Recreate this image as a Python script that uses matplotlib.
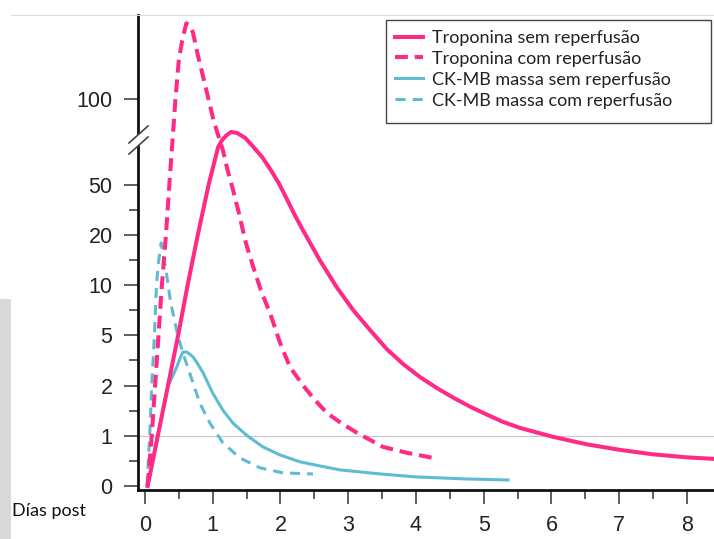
import numpy as np
import matplotlib
matplotlib.use("Agg")
import matplotlib.pyplot as plt
from matplotlib.lines import Line2D
from matplotlib.patches import Rectangle, Polygon


# days after infarction vs. marker level (multiples of the reference limit)
TROP_SEM_DAYS = [0.04, 0.19, 0.34, 0.49, 0.63, 0.78, 0.94, 1.08, 1.14, 1.20, 1.27,
                 1.36, 1.48, 1.59, 1.73, 1.85, 1.98, 2.10, 2.21, 2.33, 2.58, 2.83,
                 3.07, 3.32, 3.57, 3.81, 4.06, 4.31, 4.55, 4.80, 5.05, 5.28, 5.54,
                 6.02, 6.52, 7.01, 7.50, 8.00, 8.40]
TROP_SEM_VALS = [0.0, 1.0, 2.0, 5.0, 10.0, 20.0, 50.0, 72.0, 76.2, 78.8, 80.9,
                 80.3, 77.4, 72.6, 66.2, 59.1, 50.6, 41.0, 32.0, 23.0, 15.0, 9.8,
                 7.55, 5.55, 4.18, 3.29, 2.51, 1.95, 1.76, 1.58, 1.42, 1.28, 1.155,
                 0.98, 0.83, 0.72, 0.63, 0.57, 0.54]

TROP_COM_DAYS = [0.04, 0.10, 0.15, 0.20, 0.25, 0.31, 0.36, 0.45, 0.50, 0.55, 0.61,
                 0.66, 0.71, 0.78, 0.86, 0.93, 1.00, 1.07, 1.15, 1.22, 1.30, 1.40,
                 1.49, 1.59, 1.71, 1.85, 1.99, 2.14, 2.33, 2.51, 2.69, 2.91, 3.13,
                 3.32, 3.51, 3.87, 4.25]
TROP_COM_VALS = [0.0, 1.0, 2.0, 5.0, 10.0, 20.0, 50.0, 100.0, 146.0, 169.0, 189.0,
                 187.0, 178.0, 152.0, 126.0, 103.0, 89.7, 80.3, 70.3, 58.5, 47.0, 30.8,
                 18.4, 14.0, 9.5, 7.15, 4.6, 3.11, 2.03, 1.71, 1.45, 1.24, 1.06,
                 0.92, 0.78, 0.66, 0.56]

CK_SEM_DAYS = [0.04, 0.19, 0.34, 0.37, 0.47, 0.52, 0.56, 0.62, 0.71, 0.78, 0.86,
               0.93, 1.00, 1.15, 1.30, 1.51, 1.74, 1.99, 2.29, 2.58, 2.88, 3.47,
               4.01, 4.75, 5.36]
CK_SEM_VALS = [0.0, 1.0, 2.0, 2.21, 3.11, 3.65, 4.0, 4.0, 3.71, 3.29, 2.75,
               2.15, 1.85, 1.51, 1.25, 1.0, 0.78, 0.62, 0.48, 0.40, 0.32, 0.24,
               0.18, 0.14, 0.12]

CK_COM_DAYS = [0.03, 0.07, 0.10, 0.14, 0.17, 0.20, 0.24, 0.31, 0.38, 0.49, 0.56,
               0.66, 0.81, 0.96, 1.15, 1.40, 1.70, 2.04, 2.48]
CK_COM_VALS = [0.0, 1.0, 2.0, 5.0, 10.0, 14.6, 18.4, 13.0, 8.25, 4.91, 3.95,
               2.75, 1.65, 1.25, 0.86, 0.56, 0.36, 0.26, 0.24]

LABELS = ["Troponina sem reperfusão", "Troponina com reperfusão",
          "CK-MB massa sem reperfusão", "CK-MB massa com reperfusão"]

DAY_TICKS = [0, 1, 2, 3, 4, 5, 6, 7, 8]
DAY_MINOR = [0.5, 1.5, 2.5, 3.5, 4.5, 5.5, 6.5, 7.5]
Y_TICKS = [0, 1, 2, 5, 10, 20, 50, 100]
Y_MINOR = [0.5, 1.5, 3.5, 7.5, 15, 35]

# broken, non-linear y axis: value -> position
SCALE_VALUES = [-1, 0, 1, 2, 5, 10, 20, 50, 100, 200]
SCALE_POS = [-1, 0, 1, 2, 3, 4, 5, 6, 7.7, 9.4]

PINK = "#ff2a85"
CYAN = "#5ebcd0"

W, H = 714, 539


def fx(px):
    return px / W


def fy(py):
    return 1 - py / H


def fwd(v):
    return np.interp(v, SCALE_VALUES, SCALE_POS)


def inv(p):
    return np.interp(p, SCALE_POS, SCALE_VALUES)


plt.rcParams["font.family"] = ["Liberation Sans", "DejaVu Sans"]

fig = plt.figure(figsize=(W / 100, H / 100), dpi=100)
ax = fig.add_axes([fx(137.5), fy(490), fx(714) - fx(137.5), fy(15) - fy(490)])
ax.set_yscale("function", functions=(fwd, inv))

ax.axhline(1, color="#c9c9c9", lw=0.9, zorder=1)

h_cks, = ax.plot(CK_SEM_DAYS, CK_SEM_VALS, color=CYAN, lw=2.2, zorder=2)
h_ckc, = ax.plot(CK_COM_DAYS, CK_COM_VALS, color=CYAN, lw=2.2, dashes=(3.3, 2.3),
                 zorder=2)
h_trs, = ax.plot(TROP_SEM_DAYS, TROP_SEM_VALS, color=PINK, lw=2.9, zorder=3)
h_trc, = ax.plot(TROP_COM_DAYS, TROP_COM_VALS, color=PINK, lw=2.9, dashes=(3.2, 1.7),
                 zorder=3)

ax.set_xlim(-0.11, 8.40)
ax.set_ylim(-0.08, inv(9.38))

ax.set_xticks(DAY_TICKS)
ax.set_xticks(DAY_MINOR, minor=True)
ax.set_yticks(Y_TICKS)
ax.set_yticklabels([str(t) for t in Y_TICKS])
ax.set_yticks(Y_MINOR, minor=True)
ax.yaxis.set_minor_formatter(plt.NullFormatter())

for s in ["top", "right"]:
    ax.spines[s].set_visible(False)
for s in ["left", "bottom"]:
    ax.spines[s].set_linewidth(2.0)
    ax.spines[s].set_color("#111111")

ax.tick_params(which="major", length=10, width=1.1, color="#333333",
               labelsize=15.5, pad=8, labelcolor="#222222")
ax.tick_params(which="minor", length=6.5, width=1.1, color="#333333")

# axis break on the left spine
fig.add_artist(Polygon([(fx(129), fy(143)), (fx(148), fy(126)), (fx(148), fy(137)),
                        (fx(129), fy(154))], closed=True, transform=fig.transFigure,
                       facecolor="white", edgecolor="none", zorder=5))
for y0, y1 in [(143, 126), (154, 137)]:
    fig.add_artist(Line2D([fx(129), fx(148)], [fy(y0), fy(y1)], color="#444444",
                          lw=1.2, transform=fig.transFigure, zorder=6))

# legend box (wider than its entries, as in the original)
fig.add_artist(Rectangle((fx(385.5), fy(123)), fx(711) - fx(385.5), fy(20) - fy(123),
                         transform=fig.transFigure, facecolor="white",
                         edgecolor="#444444", lw=1.0, zorder=7))
leg = fig.legend([h_trs, h_trc, h_cks, h_ckc], LABELS, loc="upper left",
                 bbox_to_anchor=(fx(385.5), fy(20)), bbox_transform=fig.transFigure,
                 prop={"family": "Lato", "size": 13}, frameon=False,
                 handlelength=1.5, handletextpad=0.5, labelspacing=0.27,
                 borderpad=0.55, borderaxespad=0, labelcolor="#222222")
leg.set_zorder(8)

fig.text(fx(12.5), fy(511), "Días post", family="Lato", size=13,
         va="center", ha="left", color="#111111")

# screenshot edges
fig.add_artist(Rectangle((0, 0), fx(10.5), fy(299), transform=fig.transFigure,
                         facecolor="#d9d9d9", edgecolor="none", zorder=0))
fig.add_artist(Line2D([fx(10.5), 1], [fy(14.5), fy(14.5)], color="#dddddd",
                      lw=0.8, transform=fig.transFigure))

fig.savefig("out.png", dpi=100)
